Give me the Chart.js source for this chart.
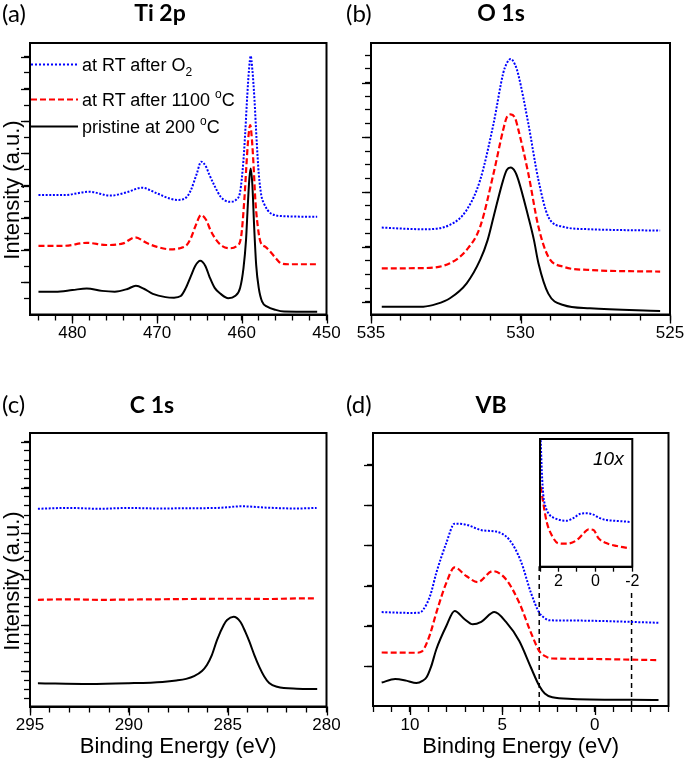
<!DOCTYPE html>
<html><head><meta charset="utf-8">
<script src="https://cdn.jsdelivr.net/npm/chart.js@4"></script>
<style>
html,body{margin:0;padding:0;background:#fff;}
body{width:685px;height:761px;position:relative;overflow:hidden;font-family:"Liberation Sans",Arial,sans-serif;color:#000;}
canvas{position:absolute;}
.t{position:absolute;white-space:nowrap;line-height:1;}
.lab{font-family:Lato,"Open Sans",sans-serif;font-size:24px;}
.ttl{font-family:Lato,"Open Sans",sans-serif;font-weight:700;font-size:23px;text-align:center;width:200px;}
.yt{font-size:22px;transform:translate(-50%,-50%) rotate(-90deg);}
.leg{font-size:18px;left:82px;}
.sub{font-size:12px;position:relative;top:5px;}
.sup{font-size:12px;position:relative;top:-8px;}
svg{position:absolute;}
</style>
</head><body>
<canvas id="ca" width="342" height="352" style="left:0;top:0"></canvas>
<canvas id="cb" width="343" height="352" style="left:342px;top:0"></canvas>
<canvas id="cc" width="342" height="401" style="left:0;top:360px"></canvas>
<canvas id="cd" width="343" height="401" style="left:342px;top:360px"></canvas>
<canvas id="ci" width="120" height="162" style="left:528px;top:432px"></canvas>

<div class="t lab" style="left:2px;top:1px">(a)</div>
<div class="t ttl" style="left:60px;top:1px">Ti 2p</div>
<div class="t lab" style="left:346px;top:1px">(b)</div>
<div class="t ttl" style="left:401px;top:1px">O 1s</div>
<div class="t lab" style="left:2px;top:392px">(c)</div>
<div class="t ttl" style="left:52px;top:393px">C 1s</div>
<div class="t lab" style="left:346px;top:392px">(d)</div>
<div class="t ttl" style="left:391px;top:393px">VB</div>

<div class="t yt" style="left:12px;top:190px">Intensity (a.u.)</div>
<div class="t yt" style="left:12px;top:581px">Intensity (a.u.)</div>

<svg style="left:31px;top:61px" width="48" height="7"><line x1="0" y1="3.5" x2="47" y2="3.5" stroke="#0000ff" stroke-width="2" stroke-dasharray="2 2"/></svg>
<svg style="left:31px;top:95.5px" width="48" height="7"><line x1="0" y1="3.5" x2="47" y2="3.5" stroke="#ff0000" stroke-width="2.2" stroke-dasharray="6 3"/></svg>
<svg style="left:31px;top:122.5px" width="48" height="7"><line x1="0" y1="3.5" x2="47" y2="3.5" stroke="#000" stroke-width="2"/></svg>
<div class="t leg" style="top:56px">at RT after O<span class="sub">2</span></div>
<div class="t leg" style="top:91px">at RT after 1100 <span class="sup">o</span>C</div>
<div class="t leg" style="top:118px">pristine at 200 <span class="sup">o</span>C</div>

<div class="t" style="left:593px;top:449px;font-size:19px;font-style:italic">10x</div>

<script>
Chart.defaults.font.family = "'Liberation Sans', Arial, sans-serif";
Chart.defaults.color = '#000';

const BLUE = '#0000ff', RED = '#ff0000', BLACK = '#000000';
const seriesNames = ['at RT after O2', 'at RT after 1100 °C', 'pristine at 200 °C'];

// ---------- (a) Ti 2p ----------
const tiE_O2 = [484.0,481.0,478.0,475.5,473.5,471.8,470.0,468.5,467.5,466.5,466.0,465.3,464.8,464.2,463.9,463.2,462.5,461.4,460.6,460.2,459.8,459.6,459.35,459.15,458.95,458.75,458.5,458.25,458.0,457.7,457.4,456.6,455.0,451.1];
const tiI_O2 = [44.0,44.0,45.2,43.8,45.1,46.7,44.6,42.7,42.2,43.3,45.9,52.0,56.3,54.3,52.0,47.3,43.4,41.5,42.5,45.1,56.9,66.7,80.8,90.1,95.2,90.1,79.0,64.3,52.0,44.0,41.0,37.3,36.2,36.0];
const tiE_1100 = [484.0,481.0,478.3,476.0,474.0,472.6,471.2,470.0,468.4,467.2,466.5,466.0,465.5,464.8,464.2,463.7,463.0,462.3,461.4,460.6,460.1,459.7,459.45,459.25,459.0,458.8,458.6,458.4,458.2,457.8,457.2,456.6,456.0,455.4,454.5,451.1];
const tiI_1100 = [25.3,25.3,26.4,25.6,26.2,28.4,26.3,24.9,24.0,24.5,25.6,28.2,32.3,36.6,34.8,31.1,27.4,25.2,24.4,25.2,28.2,42.2,55.1,64.3,69.8,64.3,54.4,42.2,34.8,26.8,24.9,23.0,20.8,18.9,18.5,18.5];
const tiE_pr = [484.0,482.0,480.0,478.3,476.5,475.0,473.5,472.5,471.5,470.5,469.0,468.0,467.2,466.6,466.0,465.5,464.9,464.3,463.8,463.2,462.5,461.6,460.8,460.2,459.8,459.5,459.3,459.1,458.95,458.75,458.55,458.3,458.0,457.6,457.0,456.0,455.0,451.1];
const tiI_pr = [8.4,8.4,9.0,9.6,8.7,8.4,9.4,10.6,9.4,7.6,6.4,6.2,6.8,9.8,14.2,17.9,19.8,17.9,13.8,9.8,7.6,6.0,6.8,9.8,17.1,27.4,39.6,50.3,53.8,47.7,33.0,18.2,9.8,4.7,2.9,1.7,1.1,1.0];

// ---------- (b) O 1s ----------
const oE_O2 = [534.64,533.25,532.36,531.8,531.35,530.9,530.58,530.46,530.33,530.18,530.07,529.74,529.4,529.07,528.57,527.68,525.33];
const oI_O2 = [32.0,31.4,33.0,38.5,49.5,70.4,88.8,92.5,94.1,92.0,88.2,70.4,49.5,36.0,32.3,31.4,30.9];
const oE_1100 = [534.64,533.25,532.36,531.8,531.35,530.9,530.58,530.46,530.33,530.18,530.07,529.74,529.4,529.07,528.57,527.68,525.33];
const oI_1100 = [17.0,17.1,18.9,23.8,32.3,52.0,68.0,72.6,73.7,72.3,68.0,52.0,32.3,21.3,17.6,16.4,15.8];
const oE_pr = [534.64,533.25,532.8,532.36,531.8,531.35,531.1,530.9,530.58,530.46,530.33,530.18,530.07,529.74,529.55,529.4,529.07,528.57,527.68,525.33];
const oI_pr = [2.9,2.9,3.9,6.0,11.5,20.1,27.4,36.0,49.5,53.2,54.1,52.6,49.5,36.0,27.4,18.9,7.7,3.5,2.3,1.3];

// ---------- (c) C 1s ----------
const cE_O2 = [294.6,293,291.5,290,288.5,287,285.5,284.3,283,281.5,280.5];
const cI_O2 = [72.3,72.6,72.3,72.6,72.4,72.5,72.6,73.2,72.7,72.4,72.6];
const cE_1100 = [294.6,293,291.5,290,288.5,287,285.5,284.3,283,281.5,280.5];
const cI_1100 = [39.0,39.2,39.0,39.1,39.2,39.3,39.4,39.4,39.3,39.5,39.5];
const cE_pr = [294.6,292,290,288.3,287.6,287.1,286.7,286.3,286.05,285.8,285.54,285.2,285.03,284.7,284.36,284.1,283.9,283.65,283.4,283.15,282.9,282.5,281.5,280.47];
const cI_pr = [8.5,8.2,8.5,9.0,9.5,10.1,11.1,13.0,15.2,18.8,24.3,29.8,31.6,32.8,31.0,27.2,23.7,18.8,14.5,11.0,8.6,7.2,6.5,6.4];

// ---------- (d) VB ----------
const vbE_O2 = [11.53,10.0,9.5,9.29,8.9,8.57,8.03,7.58,6.95,6.05,5.34,4.62,3.99,3.45,3.0,2.7,2.46,1.21,-3.46];
const vbI_O2 = [34.4,34.1,34.2,35.2,40.5,48.8,59.7,66.8,66.4,64.3,63.9,60.9,53.0,41.5,34.2,32.2,31.4,31.3,30.5];
const vbE_1100 = [11.53,9.65,9.35,9.2,8.9,8.57,8.03,7.58,6.95,6.33,5.52,4.8,4.08,3.45,3.0,2.6,2.29,1.21,-3.46];
const vbI_1100 = [19.6,19.5,20.0,21.4,26.5,34.2,45.1,50.8,47.6,45.4,49.4,46.4,37.8,26.9,20.2,18.0,17.4,17.3,16.8];
const vbE_pr = [11.53,10.8,10.2,9.65,9.3,9.1,8.85,8.57,8.03,7.58,7.04,6.6,6.14,5.43,4.8,4.08,3.45,3.0,2.7,2.29,1.21,-3.46];
const vbI_pr = [8.6,9.9,9.3,8.4,9.3,10.5,14.5,20.8,29.3,34.8,31.8,29.9,30.8,34.4,30.8,23.8,14.1,7.4,4.6,3.2,2.6,2.2];
// dashed guide lines linking the inset range (3 to -2 eV)
const vbGuideE = [3, -2];
const vbGuideTop = [51.2, 42.5];

// ---------- inset (10x) ----------
const inE_O2 = [2.96,2.9,2.82,2.7,2.5,2.28,1.9,1.55,1.2,0.8,0.45,0.15,-0.25,-0.6,-1.0,-1.5,-1.9];
const inI_O2 = [99,74,56,47,41,38.5,36.5,36,38,41.5,41.8,41,38,36.5,36,35.5,35];
const inE_1100 = [2.96,2.82,2.64,2.37,2.0,1.55,1.0,0.64,0.37,0.1,-0.17,-0.62,-1.16,-1.87];
const inI_1100 = [62.6,49.6,35.2,24.8,18.3,18.0,20.9,26.1,29.3,28.7,22.2,18.3,16.2,14.4];

function xy(E, I) { return E.map((e, i) => ({x: e, y: I[i]})); }
function line(E, I, color, dash, width) {
  return {data: xy(E, I), borderColor: color, borderWidth: width || 2, borderDash: dash || [],
    pointRadius: 0, fill: false, cubicInterpolationMode: 'monotone', borderCapStyle: 'butt'};
}
function three(EO, IO, E1, I1, EP, IP) {
  return [line(EO, IO, BLUE, [2, 1.6], 2), line(E1, I1, RED, [6, 3], 2.2), line(EP, IP, BLACK, [], 2)];
}

const axesDeco = {
  id: 'axesDeco',
  beforeDraw(chart, args, o) {
    if (o.fillArea) {
      const a = chart.chartArea, ctx = chart.ctx;
      ctx.save(); ctx.fillStyle = '#fff';
      ctx.fillRect(a.left, a.top, a.right - a.left, a.bottom - a.top); ctx.restore();
    }
  },
  afterDraw(chart, args, o) {
    const ctx = chart.ctx, a = chart.chartArea;
    ctx.save();
    ctx.strokeStyle = '#000';
    ctx.lineWidth = o.frameWidth || 2;
    ctx.strokeRect(a.left, a.top, a.right - a.left, a.bottom - a.top);
    ctx.lineWidth = 1.3;
    const len = o.majorLen || 9;
    const xs = chart.scales.x;
    if (o.xMajor) {
      xs.ticks.forEach(t => {
        const r = t.value / o.xMajor;
        if (Math.abs(r - Math.round(r)) < 1e-6) {
          const px = Math.round(xs.getPixelForValue(t.value)) + 0.5;
          ctx.beginPath(); ctx.moveTo(px, a.bottom); ctx.lineTo(px, a.bottom + len); ctx.stroke();
        }
      });
    }
    const ys = chart.scales.y;
    if (o.yMajorEvery) {
      ys.ticks.forEach((t, i) => {
        if (i % o.yMajorEvery === o.yMajorOffset) {
          const py = Math.round(ys.getPixelForValue(t.value)) + 0.5;
          ctx.beginPath(); ctx.moveTo(a.left - len, py); ctx.lineTo(a.left, py); ctx.stroke();
        }
      });
    }
    ctx.restore();
  }
};

function makePanel(id, p) {
  const cv = document.getElementById(id);
  const H = cv.height;
  const yTicks = [];
  for (let k = 0; k < p.yCount; k++) yTicks.push(p.yStart + k * p.yStep);
  new Chart(cv, {
    type: 'line',
    data: {datasets: p.datasets},
    plugins: [axesDeco],
    options: {
      responsive: false, animation: false, devicePixelRatio: 1,
      layout: {padding: {left: 0, top: p.top, right: p.padRight, bottom: 0}, autoPadding: false},
      plugins: {legend: {display: false}, tooltip: {enabled: false},
        axesDeco: {xMajor: p.xMajor, yMajorEvery: p.yMajorEvery, yMajorOffset: p.yMajorOffset, frameWidth: 2, majorLen: 9}},
      scales: {
        x: {
          type: 'linear', reverse: true, min: p.xMin, max: p.xMax,
          afterBuildTicks(s) {
            const t = [];
            for (let v = p.xMin; v <= p.xMax + 1e-9; v += p.xStep) t.push({value: Math.round(v * 1000) / 1000});
            s.ticks = t;
          },
          afterFit(s) { s.height = H - p.bottom; s.paddingLeft = 0; s.paddingRight = 0; },
          ticks: {autoSkip: false, maxRotation: 0, minRotation: 0, padding: 3, color: '#000',
            font: {size: 17},
            callback(v) { const r = v / p.xMajor; return Math.abs(r - Math.round(r)) < 1e-6 ? String(v) : ''; }},
          grid: {display: true, drawOnChartArea: false, drawTicks: true, tickLength: 6, tickWidth: 1.3, tickColor: '#000'},
          border: {display: true, color: '#000', width: 2},
          title: p.xTitle ? {display: true, text: p.xTitle, color: '#000', font: {size: 22, lineHeight: 1.2}, padding: {top: 0, bottom: 1}} : {display: false}
        },
        y: {
          type: 'linear', min: 0, max: 100,
          afterBuildTicks(s) { s.ticks = yTicks.map(v => ({value: v})); },
          afterFit(s) { s.width = p.left; s.paddingTop = 0; s.paddingBottom = 0; },
          ticks: {display: false},
          grid: {display: true, drawOnChartArea: false, drawTicks: true, tickLength: 6, tickWidth: 1.3, tickColor: '#000'},
          border: {display: true, color: '#000', width: 2}
        }
      }
    }
  });
}

makePanel('ca', {
  datasets: three(tiE_O2, tiI_O2, tiE_1100, tiI_1100, tiE_pr, tiI_pr),
  xMin: 450, xMax: 485, xStep: 2, xMajor: 10,
  left: 30, top: 43, padRight: 15.5, bottom: 314.5,
  yStart: 5.97, yStep: 5.93, yCount: 16, yMajorEvery: 2, yMajorOffset: 1
});
makePanel('cb', {
  datasets: three(oE_O2, oI_O2, oE_1100, oI_1100, oE_pr, oI_pr),
  xMin: 525, xMax: 535, xStep: 1, xMajor: 5,
  left: 29, top: 43, padRight: 15, bottom: 314.5,
  yStart: 4.71, yStep: 5.046, yCount: 19, yMajorEvery: 4, yMajorOffset: 0
});
makePanel('cc', {
  datasets: three(cE_O2, cI_O2, cE_1100, cI_1100, cE_pr, cI_pr),
  xMin: 280, xMax: 295, xStep: 1, xMajor: 5, xTitle: 'Binding Energy (eV)',
  left: 30, top: 73, padRight: 15.5, bottom: 346.5,
  yStart: 2.92, yStep: 3.353, yCount: 29, yMajorEvery: 5, yMajorOffset: 3
});
const vbSets = three(vbE_O2, vbI_O2, vbE_1100, vbI_1100, vbE_pr, vbI_pr);
vbGuideE.forEach((e, i) => {
  vbSets.push({data: [{x: e, y: 0}, {x: e, y: vbGuideTop[i]}], borderColor: '#000', borderWidth: 1.5,
    borderDash: [5, 4], pointRadius: 0, fill: false});
});
makePanel('cd', {
  datasets: vbSets,
  xMin: -4, xMax: 12, xStep: 1, xMajor: 5, xTitle: 'Binding Energy (eV)',
  left: 31, top: 73, padRight: 16.5, bottom: 346,
  yStart: 14.65, yStep: 14.73, yCount: 6, yMajorEvery: 1, yMajorOffset: 0
});

// inset
(function () {
  const cv = document.getElementById('ci');
  const H = cv.height;
  new Chart(cv, {
    type: 'line',
    data: {datasets: [line(inE_O2, inI_O2, BLUE, [2, 1.6], 2), line(inE_1100, inI_1100, RED, [6, 3], 2.2)]},
    plugins: [axesDeco],
    options: {
      responsive: false, animation: false, devicePixelRatio: 1,
      layout: {padding: {left: 12, top: 7, right: 15.7, bottom: 0}, autoPadding: false},
      plugins: {legend: {display: false}, tooltip: {enabled: false}, axesDeco: {fillArea: true, frameWidth: 2}},
      scales: {
        x: {
          type: 'linear', reverse: true, min: -2, max: 3,
          afterBuildTicks(s) { const t = []; for (let v = -2; v <= 3; v++) t.push({value: v}); s.ticks = t; },
          afterFit(s) { s.height = H - 134.7; s.paddingLeft = 0; s.paddingRight = 0; },
          ticks: {autoSkip: false, maxRotation: 0, padding: 0, color: '#000', font: {size: 16},
            callback(v) { return v % 2 === 0 ? String(v) : ''; }},
          grid: {display: true, drawOnChartArea: false, drawTicks: true, tickLength: 5, tickWidth: 1.3, tickColor: '#000'},
          border: {display: true, color: '#000', width: 2}
        },
        y: {type: 'linear', min: 0, max: 100, display: false}
      }
    }
  });
})();
</script>
</body></html>
